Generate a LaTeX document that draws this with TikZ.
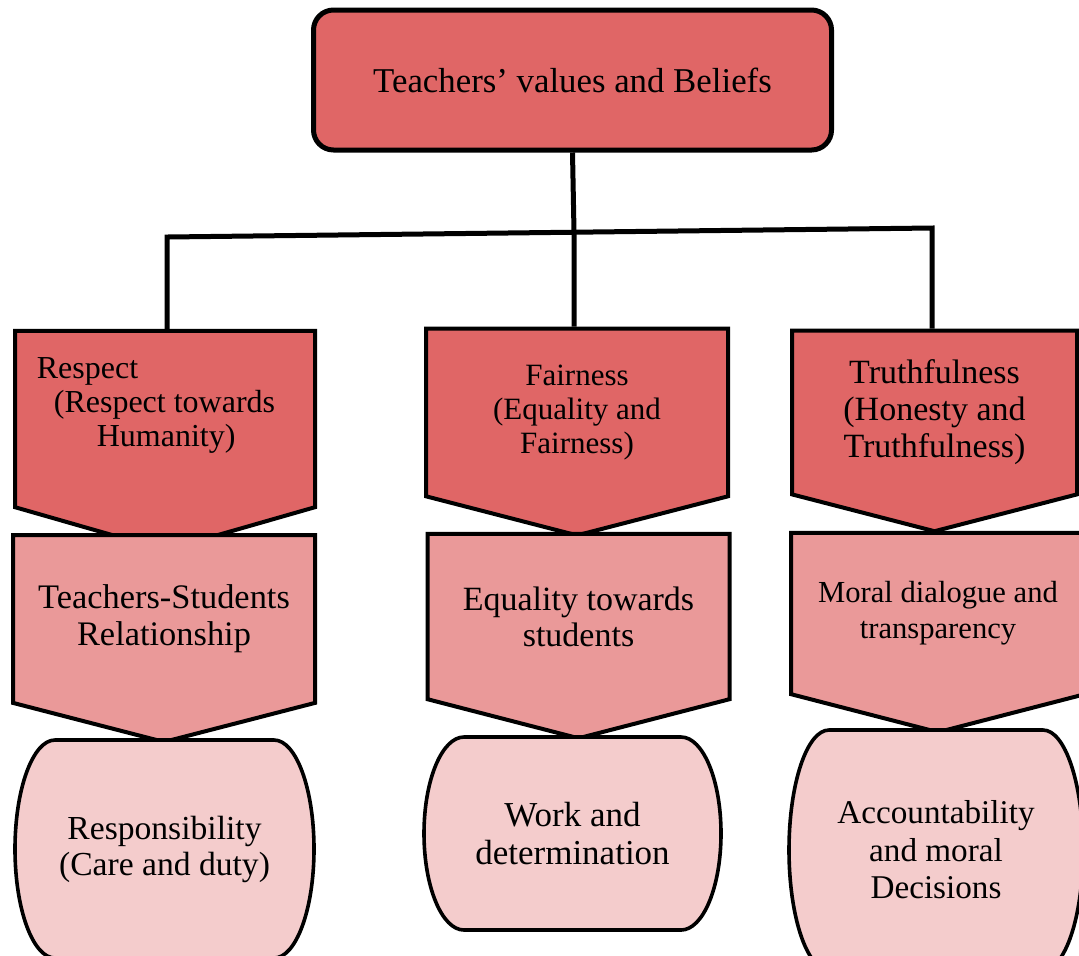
\documentclass[tikz,border=0pt]{standalone}
\usepackage{fontspec}
\setmainfont{Liberation Serif}
\usetikzlibrary{shapes.symbols,calc}

\definecolor{redA}{HTML}{E06666}
\definecolor{redB}{HTML}{EA9999}
\definecolor{redC}{HTML}{F4CCCC}

\begin{document}
\begin{tikzpicture}[x=0.5pt,y=-0.5pt,
  top node/.style={rectangle,rounded corners=10pt,draw,line width=2.5pt,fill=redA,minimum width=259pt,minimum height=70pt,font=\fontsize{17.4}{20}\selectfont},
  value node/.style={signal,signal to=south,signal from=nowhere,draw,line width=2pt,fill=redA,align=center,signal pointer angle=151},
  link node/.style={value node,fill=redB},
  end node/.style={rectangle,inner sep=0pt,align=center,
    path picture={\filldraw[fill=redC,line width=1.8pt]
      let \p1=([shift={(1pt,-1pt)}]path picture bounding box.north west),
          \p2=([shift={(-1pt,1pt)}]path picture bounding box.south east),
          \n1={(\y1-\y2)/2} in
      (\x1+20pt,\y1) -- (\x2-20pt,\y1)
      arc[start angle=90,end angle=-90,x radius=20pt,y radius={\n1*1pt}]
      -- (\x1+20pt,\y2)
      arc[start angle=270,end angle=90,x radius=20pt,y radius={\n1*1pt}] -- cycle;}},
  tie/.style={draw,line width=2.5pt}]
  \useasboundingbox (0,0) rectangle (1079,955);

  \node[top node] (top) at (572.5,80) {Teachers’ values and Beliefs};

  % first row: the values
  \node[value node,signal pointer angle=148,minimum width=150pt,minimum height=107.5pt,align=left,
    text height=27pt,text depth=0pt,font=\fontsize{16}{17}\selectfont] (resp) at (165,419)
    {Respect\\\hspace*{8.5pt}(Respect towards\hspace*{9pt}\mbox{}\\\hspace*{30pt}Humanity)};
  \node[value node,minimum width=151pt,minimum height=95.5pt,font=\fontsize{15.5}{17}\selectfont] (fair) at (577,412.5)
    {Fairness\\(Equality and\\Fairness)};
  \node[value node,minimum width=142.5pt,minimum height=94.5pt,font=\fontsize{17}{18.5}\selectfont] (truth) at (934.5,412.5)
    {Truthfulness\\(Honesty and\\Truthfulness)};

  % second row
  \node[link node,minimum width=151pt,minimum height=101pt,font=\fontsize{17.2}{18.5}\selectfont] (tsr) at (164,619)
    {Teachers-Students\\Relationship};
  \node[link node,minimum width=151pt,minimum height=98.5pt,font=\fontsize{17}{18}\selectfont] (eqs) at (578.5,616.5)
    {Equality towards\\students};
  \node[link node,minimum width=147pt,minimum height=97pt,font=\fontsize{15.3}{18}\selectfont] (moral) at (938,613.5)
    {Moral dialogue and\\transparency};

  % third row
  \node[end node,minimum width=151.5pt,minimum height=111pt,font=\fontsize{16.8}{18}\selectfont] (care) at (164.5,849)
    {Responsibility\\(Care and duty)};
  \node[end node,minimum width=150.5pt,minimum height=98.5pt,font=\fontsize{17.5}{19}\selectfont] (work) at (572.5,833.5)
    {Work and\\determination};
  \node[end node,minimum width=149pt,minimum height=122pt,font=\fontsize{16.6}{18.75}\selectfont] (acc) at (936,850)
    {Accountability\\and moral\\Decisions};

  \coordinate (jl) at (167,237);
  \coordinate (jm) at (574,232);
  \coordinate (jr) at (932,228);

  \path[tie] (top.south) -- (jm) -- (jm |- fair.north);
  \path[tie] (jl |- resp.north) -- (jl) -- (jr) -- (jr |- truth.north);
\end{tikzpicture}
\end{document}
